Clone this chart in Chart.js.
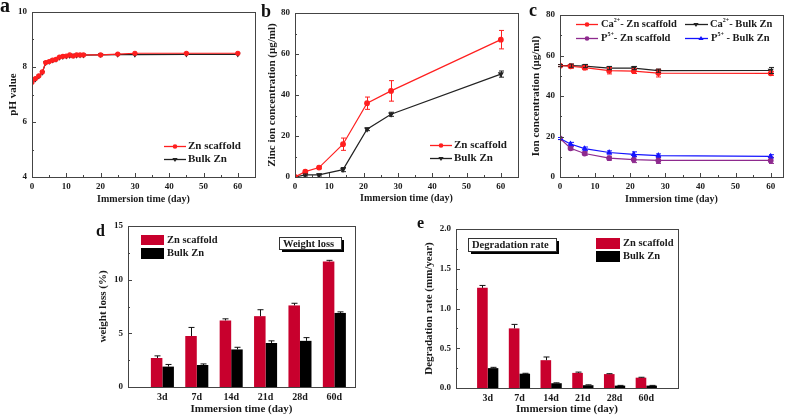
<!DOCTYPE html>
<html><head><meta charset="utf-8">
<script src="https://cdn.jsdelivr.net/npm/chart.js@4.4.1/dist/chart.umd.min.js"></script>
<style>
html,body{margin:0;padding:0;background:#fff;}
#wrap{position:relative;width:789px;height:416px;overflow:hidden;background:#fff;}
#wrap canvas{position:absolute;left:0;top:0;}
.lab{position:absolute;font-family:"Liberation Serif","Times New Roman",serif;font-weight:bold;line-height:1;color:#111;}
</style></head>
<body><div id="wrap">
<canvas id="ca" width="789" height="416"></canvas>
<canvas id="cb" width="789" height="416"></canvas>
<canvas id="cc" width="789" height="416"></canvas>
<canvas id="cd" width="789" height="416"></canvas>
<canvas id="ce" width="789" height="416"></canvas>
<div class="lab" style="left:0px;top:-5px;font-size:20px">a</div>
<div class="lab" style="left:261px;top:2px;font-size:18px">b</div>
<div class="lab" style="left:529px;top:1px;font-size:18px">c</div>
<div class="lab" style="left:96px;top:223px;font-size:16px">d</div>
<div class="lab" style="left:417px;top:215px;font-size:16px">e</div>
</div>
<script>
// ---------- data ----------
// tick labels
const dayTicks = [0,10,20,30,40,50,60];
const phTicks = [4,6,8,10];
const concTicks = [0,20,40,60,80];
const wlTicks = [0,5,10,15];
const drTicks = [0,0.5,1.0,1.5,2.0];
// panel a: pH
const phDays = [0,1,2,3,4,5,6,7,8,9,10,11,12,13,14,15,20,25,30,45,60];
const phScaffold = [7.45,7.58,7.68,7.82,8.16,8.2,8.25,8.28,8.36,8.39,8.4,8.44,8.4,8.44,8.44,8.44,8.44,8.47,8.5,8.5,8.5];
const phBulk = [7.43,7.55,7.66,7.8,8.15,8.19,8.24,8.27,8.34,8.37,8.39,8.41,8.42,8.42,8.43,8.43,8.44,8.45,8.45,8.46,8.46];
// panel b: zinc ion concentration
const znDays = [0,3,7,14,21,28,60];
const znScaffold = [0,2.6,4.6,16,36,42,67];
const znScaffoldErr = [0,0.6,0.6,3,3,5,4.5];
const znBulk = [0,1,1,3.6,23.3,30.6,50.2];
const znBulkErr = [0,0.5,0.5,1,0.7,1,1.5];
// panel c: ion concentration
const ionDays = [0,3,7,14,21,28,60];
const caScaffold = [55,54.7,54,52.5,52.3,51.3,51.2];
const caScaffoldErr = [0.5,1,1,1.6,1.2,1.9,1];
const caBulk = [55,55,54.8,53.8,53.8,52.5,52.6];
const caBulkErr = [0.5,0.8,0.8,0.8,0.8,0.8,1.5];
const pScaffold = [19,14.2,11.6,9.3,8.6,8.2,8.2];
const pScaffoldErr = [0.5,0.8,0.8,1,1.5,1.5,1.5];
const pBulk = [19,16.3,14,12.1,11.2,10.6,10.2];
const pBulkErr = [0.5,0.8,0.8,0.8,1.2,0.8,0.8];
// panels d, e
const periods = ['3d','7d','14d','21d','28d','60d'];
const periodPos = [1,2,3,4,5,6];
const wlScaffold = [2.7,4.75,6.2,6.6,7.6,11.7];
const wlScaffoldErr = [0.2,0.8,0.15,0.6,0.2,0.1];
const wlBulk = [1.9,2.05,3.5,4.1,4.3,6.9];
const wlBulkErr = [0.2,0.1,0.2,0.2,0.3,0.1];
const drScaffold = [1.26,0.75,0.35,0.19,0.175,0.13];
const drScaffoldErr = [0.03,0.05,0.04,0.01,0.005,0.005];
const drBulk = [0.25,0.18,0.06,0.035,0.03,0.03];
const drBulkErr = [0.01,0.005,0.005,0.005,0.003,0.003];

// ---------- style ----------
const SERIF = '"Liberation Serif","Times New Roman",serif';
const TXT = '#1a1a1a';
const FRAME = '#444';
const RED = '#ff1f1f', BLACK = '#222', PURPLE = '#8e2a8e', BLUE = '#1414ff';
const BAR_RED = '#c8002d', BAR_BLACK = '#000';

function pts(xs, ys){ return xs.map((x,i)=>({x:x, y:ys[i]})); }

function drawMarker(ctx, kind, x, y, r, color){
  ctx.save(); ctx.fillStyle=color; ctx.strokeStyle=color; ctx.beginPath();
  if(kind==='circle'){ ctx.arc(x,y,r,0,Math.PI*2); }
  else if(kind==='triDown'){ ctx.moveTo(x-r*1.15,y-r*0.7); ctx.lineTo(x+r*1.15,y-r*0.7); ctx.lineTo(x,y+r*1.1); ctx.closePath(); }
  else if(kind==='triUp'){ ctx.moveTo(x-r*1.15,y+r*0.7); ctx.lineTo(x+r*1.15,y+r*0.7); ctx.lineTo(x,y-r*1.1); ctx.closePath(); }
  ctx.fill(); ctx.restore();
}
function drawParts(ctx, parts, x, y, size){
  let cx = x;
  parts.forEach(p=>{
    const sup = Array.isArray(p) && p[1];
    const t = Array.isArray(p) ? p[0] : p;
    const fs = sup ? Math.round(size*0.6) : size;
    ctx.font = 'bold '+fs+'px '+SERIF;
    ctx.fillText(t, cx, sup ? y - size*0.38 : y);
    cx += ctx.measureText(t).width;
  });
}

const panelPlugin = {
  id: 'panelDeco',
  afterDatasetsDraw(chart){
    const ctx = chart.ctx;
    chart.data.datasets.forEach((ds,di)=>{
      if(!ds.err) return;
      const meta = chart.getDatasetMeta(di);
      const ys = chart.scales[meta.yAxisID];
      const isBar = meta.type === 'bar';
      ctx.save(); ctx.strokeStyle = ds.errColor || ds.borderColor; ctx.lineWidth = 1;
      meta.data.forEach((el,i)=>{
        const d = ds.data[i]; const v = (typeof d === 'object') ? d.y : d; const e = ds.err[i];
        if(!e) return;
        const x = Math.round(el.x)+0.5;
        const top = ys.getPixelForValue(v+e);
        const bot = isBar ? ys.getPixelForValue(v) : ys.getPixelForValue(v-e);
        const cw = isBar ? 3 : 2.5;
        ctx.beginPath(); ctx.moveTo(x,top); ctx.lineTo(x,bot);
        ctx.moveTo(x-cw,top); ctx.lineTo(x+cw,top);
        if(!isBar){ ctx.moveTo(x-cw,bot); ctx.lineTo(x+cw,bot); }
        ctx.stroke();
      });
      ctx.restore();
    });
  },
  afterDraw(chart, args, opts){
    const ctx = chart.ctx, a = chart.chartArea;
    ctx.save();
    // inward tick marks
    ctx.strokeStyle = FRAME; ctx.lineWidth = 1;
    Object.values(chart.scales).forEach(s=>{
      if(!s.options.inTicks) return;
      const vals = s.ticks.map(t=>t.value);
      const minors = s.options.minor ? vals.slice(1).map((v,i)=>(v+vals[i])/2) : [];
      const draw = (v,len)=>{
        const p = Math.round(s.getPixelForValue(v))+0.5;
        ctx.beginPath();
        if(s.isHorizontal()){ ctx.moveTo(p,a.bottom); ctx.lineTo(p,a.bottom-len); }
        else { ctx.moveTo(a.left,p); ctx.lineTo(a.left+len,p); }
        ctx.stroke();
      };
      vals.forEach(v=>draw(v,4)); minors.forEach(v=>draw(v,2));
    });
    // frame
    ctx.strokeStyle = FRAME; ctx.lineWidth = 1;
    ctx.strokeRect(Math.round(a.left)+0.5, Math.round(a.top)+0.5, Math.round(a.right-a.left), Math.round(a.bottom-a.top));
    // legends
    ctx.fillStyle = TXT; ctx.textBaseline = 'middle'; ctx.textAlign = 'left';
    (opts.lines||[]).forEach(it=>{
      ctx.strokeStyle = it.color; ctx.lineWidth = 1.3;
      ctx.beginPath(); ctx.moveTo(it.x1,it.y+0.5); ctx.lineTo(it.x2,it.y+0.5); ctx.stroke();
      drawMarker(ctx, it.marker, it.mx, it.y+0.5, 2.3, it.color);
      ctx.fillStyle = TXT;
      drawParts(ctx, it.parts, it.tx, it.y, it.size);
    });
    (opts.swatches||[]).forEach(it=>{
      ctx.fillStyle = it.color; ctx.fillRect(it.x,it.y,it.w,it.h);
      ctx.fillStyle = TXT; ctx.font = 'bold '+it.size+'px '+SERIF;
      ctx.fillText(it.text, it.tx, it.y+it.h/2);
    });
    (opts.boxes||[]).forEach(it=>{
      ctx.fillStyle = '#000';
      ctx.fillRect(it.x+3, it.y+3, it.w, it.h);
      ctx.fillStyle = '#fff'; ctx.fillRect(it.x, it.y, it.w, it.h);
      ctx.strokeStyle = '#333'; ctx.lineWidth = 1; ctx.strokeRect(it.x+0.5, it.y+0.5, it.w, it.h);
      ctx.fillStyle = TXT; ctx.font = 'bold '+it.size+'px '+SERIF;
      ctx.fillText(it.text, it.x+4, it.y+it.h/2+1);
    });
    ctx.restore();
  }
};

const setTicks = vals => (s => { s.ticks = vals.map(v=>({value:v})); });

function makeScales(p){
  const yPadLeft = p.yTitleX - 0.6*p.yfs;
  const xBottom = p.xTitleY + 0.6*p.xfs;
  const layout = { padding: { left: yPadLeft, top: p.area.t, right: 789 - p.area.r, bottom: 416 - xBottom } };
  const scales = {
    x: {
      type: 'linear', min: p.xMin, max: p.xMax, offset: false,
      ticks: { font: {family: SERIF, size: p.xtfs || 9, weight: 'bold'}, color: TXT, padding: 4, maxRotation: 0, autoSkip: false,
               callback: p.xFmt || (v=>v) },
      grid: { display: false, drawTicks: false }, border: { display: false },
      title: { display: true, text: p.xTitle, font: {family: SERIF, size: p.xfs, weight: 'bold'}, color: TXT, padding: 0 },
      afterFit: s=>{ s.height = xBottom - p.area.b; },
      afterBuildTicks: setTicks(p.xTickVals),
      inTicks: p.xTicks !== false, minor: p.xTicks !== false
    },
    y: {
      type: 'linear', min: p.yMin, max: p.yMax,
      ticks: { font: {family: SERIF, size: 9, weight: 'bold'}, color: TXT, padding: 5,
               callback: p.yFmt || (v=>v) },
      grid: { display: false, drawTicks: false }, border: { display: false },
      title: { display: true, text: p.yTitle, font: {family: SERIF, size: p.yfs, weight: 'bold'}, color: TXT, padding: 0 },
      afterFit: s=>{ s.width = p.area.l - yPadLeft; },
      afterBuildTicks: setTicks(p.yTickVals),
      inTicks: true, minor: true
    }
  };
  return {layout, scales};
}

function lineDs(label, xs, ys, color, style, err, extra){
  return Object.assign({
    label, data: pts(xs, ys), borderColor: color, backgroundColor: color,
    borderWidth: 1.2, pointRadius: 2.3, pointHoverRadius: 2.3,
    pointStyle: style === 'triDown' || style === 'triUp' ? 'triangle' : 'circle',
    pointRotation: style === 'triDown' ? 180 : 0,
    tension: 0, err: err
  }, extra||{});
}

function make(id, type, datasets, p, deco){
  const {layout, scales} = makeScales(p);
  return new Chart(document.getElementById(id), {
    type, data: { datasets },
    options: {
      responsive: false, devicePixelRatio: 1, animation: false, layout, scales,
      plugins: { legend: {display: false}, tooltip: {enabled: false}, panelDeco: deco },
      events: []
    },
    plugins: [panelPlugin]
  });
}

// ---------- panel a ----------
make('ca', 'line', [
  lineDs('Zn scaffold', phDays, phScaffold, RED, 'circle', null, {pointRadius: 2}),
  lineDs('Bulk Zn', phDays, phBulk, BLACK, 'triDown', null, {pointRadius: 2})
], { area: {l:32, t:12, r:255, b:177}, yTitleX: 13, xTitleY: 199, xfs: 10, yfs: 11,
     xMin: 0, xMax: 65, xTickVals: dayTicks, yMin: 4, yMax: 10, yTickVals: phTicks,
     xTitle: 'Immersion time (day)', yTitle: 'pH value' },
{ lines: [
  {x1:164, x2:186, mx:175, y:146, color:RED, marker:'circle', tx:188, size:11, parts:['Zn scaffold']},
  {x1:164, x2:186, mx:175, y:159, color:BLACK, marker:'triDown', tx:188, size:11, parts:['Bulk Zn']}
]});

// ---------- panel b ----------
make('cb', 'line', [
  lineDs('Zn scaffold', znDays, znScaffold, RED, 'circle', znScaffoldErr),
  lineDs('Bulk Zn', znDays, znBulk, BLACK, 'triDown', znBulkErr)
], { area: {l:295, t:13, r:518, b:177}, yTitleX: 272.5, xTitleY: 198, xfs: 10, yfs: 11,
     xMin: 0, xMax: 65, xTickVals: dayTicks, yMin: 0, yMax: 80, yTickVals: concTicks,
     xTitle: 'Immersion time (day)', yTitle: 'Zinc ion concentration (μg/ml)' },
{ lines: [
  {x1:430, x2:452, mx:441, y:145, color:RED, marker:'circle', tx:454, size:11, parts:['Zn scaffold']},
  {x1:430, x2:452, mx:441, y:158, color:BLACK, marker:'triDown', tx:454, size:11, parts:['Bulk Zn']}
]});

// ---------- panel c ----------
make('cc', 'line', [
  lineDs('Ca2+ - Zn scaffold', ionDays, caScaffold, RED, 'circle', caScaffoldErr),
  lineDs('Ca2+ - Bulk Zn', ionDays, caBulk, BLACK, 'triDown', caBulkErr),
  lineDs('P5+ - Zn scaffold', ionDays, pScaffold, PURPLE, 'circle', pScaffoldErr),
  lineDs('P5+ - Bulk Zn', ionDays, pBulk, BLUE, 'triUp', pBulkErr)
], { area: {l:560, t:15, r:783, b:177}, yTitleX: 536.5, xTitleY: 199, xfs: 10, yfs: 11,
     xMin: 0, xMax: 63.5, xTickVals: dayTicks, yMin: 0, yMax: 80, yTickVals: concTicks,
     xTitle: 'Immersion time (day)', yTitle: 'Ion concentration (μg/ml)' },
{ lines: [
  {x1:576, x2:598, mx:587, y:24, color:RED, marker:'circle', tx:601, size:10.5, parts:['Ca',['2+',true],'- Zn scaffold']},
  {x1:685, x2:708, mx:696, y:24, color:BLACK, marker:'triDown', tx:710, size:10.5, parts:['Ca',['2+',true],'- Bulk Zn']},
  {x1:576, x2:598, mx:587, y:38, color:PURPLE, marker:'circle', tx:601, size:10.5, parts:['P',['5+',true],'- Zn scaffold']},
  {x1:685, x2:708, mx:701, y:38, color:BLUE, marker:'triUp', tx:711, size:10.5, parts:['P',['5+',true],' - Bulk Zn']}
]});

// ---------- panel d ----------
const catFmt = v=>{ const i = periodPos.indexOf(v); return i>=0 ? periods[i] : ''; };
function barDs(label, vals, color, err){
  return { label, data: pts(periodPos, vals), backgroundColor: color, borderWidth: 0,
           categoryPercentage: 0.67, barPercentage: 1.0, err: err, errColor: '#111', borderColor: '#111' };
}
make('cd', 'bar', [
  barDs('Zn scaffold', wlScaffold, BAR_RED, wlScaffoldErr),
  barDs('Bulk Zn', wlBulk, BAR_BLACK, wlBulkErr)
], { area: {l:128, t:226, r:355, b:387}, yTitleX: 103, xTitleY: 409, xfs: 11, yfs: 11, xtfs: 10,
     xMin: 0, xMax: 6.6, xTickVals: periodPos, yMin: 0, yMax: 15, yTickVals: wlTicks, xTicks: false,
     xFmt: catFmt,
     xTitle: 'Immersion time (day)', yTitle: 'weight loss (%)' },
{ swatches: [
  {x:141, y:235, w:23, h:10, color:BAR_RED, tx:167, size:10.5, text:'Zn scaffold'},
  {x:141, y:248, w:23, h:11, color:BAR_BLACK, tx:167, size:10.5, text:'Bulk Zn'}
], boxes: [ {x:279, y:237, w:62, h:12, size:10.5, text:'Weight loss'} ]});

// ---------- panel e ----------
make('ce', 'bar', [
  barDs('Zn scaffold', drScaffold, BAR_RED, drScaffoldErr),
  barDs('Bulk Zn', drBulk, BAR_BLACK, drBulkErr)
], { area: {l:456, t:229, r:678, b:388}, yTitleX: 429.5, xTitleY: 409, xfs: 11, yfs: 11, xtfs: 10,
     xMin: 0, xMax: 7, xTickVals: periodPos, yMin: 0, yMax: 2, yTickVals: drTicks, xTicks: false,
     xFmt: catFmt, yFmt: v=>v.toFixed(1),
     xTitle: 'Immersion time (day)', yTitle: 'Degradation rate (mm/year)' },
{ swatches: [
  {x:596, y:238, w:24, h:11, color:BAR_RED, tx:623, size:10.5, text:'Zn scaffold'},
  {x:596, y:251, w:24, h:11, color:BAR_BLACK, tx:623, size:10.5, text:'Bulk Zn'}
], boxes: [ {x:468, y:238, w:88, h:13, size:10.5, text:'Degradation rate'} ]});
</script>
</body></html>
